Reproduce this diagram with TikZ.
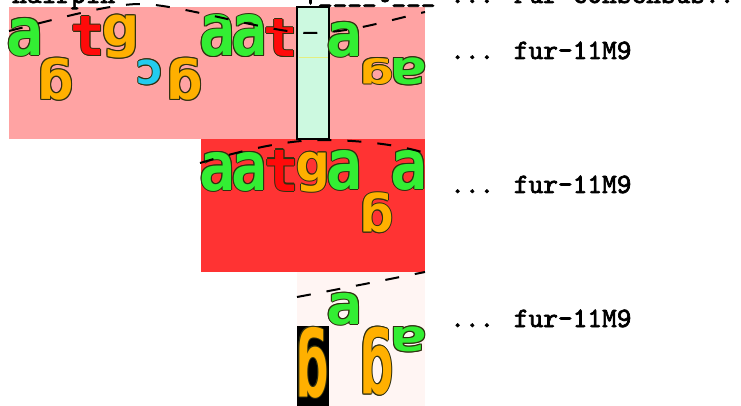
\documentclass[tikz,border=0pt]{standalone}
\usepackage{fontspec}
\usepackage{graphicx}
\newfontfamily\logofont{DejaVu Sans Mono}
\newfontfamily\labfont{lmmono10-regular.otf}[FakeBold=2.5]
\definecolor{pinkbg}{HTML}{FFA3A3}
\definecolor{redbg}{HTML}{FF3333}
\definecolor{palebg}{HTML}{FFF5F3}
\definecolor{mint}{HTML}{CCF9E0}
\definecolor{nucA}{HTML}{33EE33}
\definecolor{nucT}{HTML}{FF0A0A}
\definecolor{nucG}{HTML}{FFB000}
\definecolor{nucC}{HTML}{22CCEE}
\definecolor{edge}{HTML}{303010}
\newcommand\ltr[5]{\resizebox*{\dimexpr(#3pt-#1pt)*23/20\relax}{\dimexpr #4pt-#2pt\relax}{\logofont\bfseries\fontsize{40}{40}\selectfont #5}}
\newcommand\seqlet[8]{%
  \foreach \dx/\dy in {1/0,-1/0,0/1,0/-1,0.7/0.7,-0.7/0.7,0.7/-0.7,-0.7/-0.7}{%
    \node[letterbox, rotate=#8, text=edge] at ({(#2+#4)/2+\dx},{(#3+#5)/2+\dy}) {\ltr{#2}{#3}{#4}{#5}{#7}};}%
  \node[letterbox, rotate=#8, text=#6] (#1) at ({(#2+#4)/2},{(#3+#5)/2}) {\ltr{#2}{#3}{#4}{#5}{#7}};%
}
\tikzset{
  letterbox/.style={inner sep=0pt, outer sep=0pt},
  lab/.style={anchor=base west, inner sep=0pt, font=\labfont\fontsize{28}{30}\selectfont},
  curve/.style={dash pattern=on 14pt off 16pt, line width=2pt, black},
}
\begin{document}
\begin{tikzpicture}[x=1pt, y=-1pt]
\useasboundingbox (0,0) rectangle (741,406);
\fill[white] (0,0) rectangle (741,406);
% background panels
\fill[pinkbg] (9,7) rectangle (425,139);
\fill[redbg] (201,139) rectangle (425,272);
\fill[palebg] (297,272) rectangle (425,406);
\filldraw[fill=mint, draw=black, line width=1.5pt] (297,7) rectangle (329,139);
\draw[yellow!45!mint, line width=1pt] (298.5,58) -- (327.5,58);
\fill[black] (297,326) rectangle (329,406);
% top labels (cut off)
\node[lab] (hp) at (12,3) {hairpin};
\node[lab] (st) at (303,2) {|\_\_\_\_t\_\_\_};
\node[lab] (fc) at (450,3) {... Fur consensus..};
% row labels
\node[lab] (l1) at (450,59) {... fur-11M9};
\node[lab] (l2) at (450,193) {... fur-11M9};
\node[lab] (l3) at (450,327) {... fur-11M9};
% row 1 letters
\seqlet{ra0}{9}{18}{41}{56}{nucA}{a}{0}
\seqlet{rg1}{40}{58}{72}{100}{nucG}{g}{180}
\seqlet{rt2}{73}{17}{103}{56}{nucT}{t}{0}
\seqlet{rg3}{104}{15}{137}{58}{nucG}{g}{0}
\seqlet{rc4}{137}{60}{163}{85}{nucC}{c}{180}
\seqlet{rg5}{169}{58}{201}{100}{nucG}{g}{180}
\seqlet{ra6}{202}{15}{233}{57}{nucA}{a}{0}
\seqlet{ra7}{234}{15}{265}{57}{nucA}{a}{0}
\seqlet{rt8}{266}{20}{296}{57}{nucT}{t}{0}
\seqlet{ra10}{329}{22}{360}{57}{nucA}{a}{0}
\seqlet{rg11}{362}{58}{392}{84}{nucG}{g}{180}
\seqlet{ra12}{393}{58}{425}{85}{nucA}{a}{180}
% row 2 letters
\seqlet{sa6}{202}{152}{233}{191}{nucA}{a}{0}
\seqlet{sa7}{234}{152}{265}{191}{nucA}{a}{0}
\seqlet{st8}{267}{150}{297}{191}{nucT}{t}{0}
\seqlet{sg9}{298}{152}{328}{192}{nucG}{g}{0}
\seqlet{sa10}{329}{150}{360}{190}{nucA}{a}{0}
\seqlet{sg11}{362}{193}{392}{233}{nucG}{g}{180}
\seqlet{sa12}{393}{150}{425}{190}{nucA}{a}{0}
% row 3 letters
\seqlet{ug9}{298}{327}{327}{398}{nucG}{g}{180}
\seqlet{ua10}{329}{293}{360}{325}{nucA}{a}{0}
\seqlet{ug11}{362}{327}{392}{395}{nucG}{g}{180}
\seqlet{ua12}{393}{327}{425}{352}{nucA}{a}{180}
% dashed curves
\draw[curve] (9,31) .. controls (60,18) and (110,4) .. (140,4)
  .. controls (180,4) and (270,33) .. (310,33)
  .. controls (350,33) and (390,20) .. (425,12);
\draw[curve] (200,163) .. controls (250,148) and (290,140) .. (322,140)
  .. controls (360,140) and (400,145) .. (425,153);
\draw[curve] (297,297) .. controls (340,289) and (385,280) .. (425,272);
\end{tikzpicture}
\end{document}
